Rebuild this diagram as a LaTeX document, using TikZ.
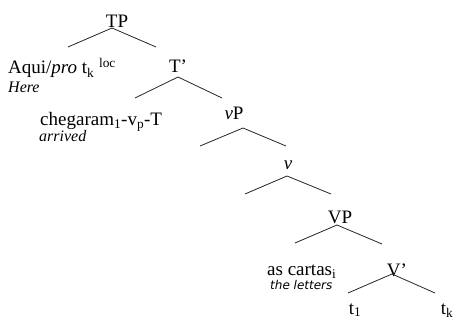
\documentclass[tikz,border=0pt]{standalone}
\usepackage{fontspec}
\setmainfont{Liberation Serif}
\newfontfamily\glosssans{DejaVu Sans}

\tikzset{
  cat/.style   = {inner sep=0pt, anchor=base, font=\fontsize{19}{21}\selectfont},
  word/.style  = {inner sep=0pt, anchor=base west, font=\fontsize{19}{21}\selectfont},
  gloss/.style = {inner sep=0pt, anchor=base west, font=\itshape\fontsize{16}{18}\selectfont},
  branch/.style = {draw=black!85, line width=0.8pt}
}

\begin{document}
\begin{tikzpicture}[x=1pt, y=-1pt]
  \useasboundingbox (0,0) rectangle (455,320);

  % labels of the tree, by baseline
  \node[cat]  (TP)   at (117,27.5) {TP};
  \node[word] (aqui) at (8,74)     {Aqui/\textit{pro} t\textsubscript{k} \textsuperscript{loc}};
  \node[gloss] (here) at (8,93)    {Here};
  \node[cat]  (Tbar) at (178,73)   {T’};
  \node[word] (verb) at (40,126)   {chegaram\textsubscript{1}-v\textsubscript{p}-T};
  \node[gloss] (arr) at (39,142)   {arrived};
  \node[cat]  (vP)   at (234,120)  {\textit{v}P};
  \node[cat]  (v)    at (288,169.5){\textit{v}};
  \node[cat]  (VP)   at (340,224)  {VP};
  \node[word] (obj)  at (267,276)  {as cartas\textsubscript{i}};
  \node[gloss, font=\glosssans\itshape\fontsize{12}{14}\selectfont]
              (lett) at (270,290)  {the letters};
  \node[cat]  (Vbar) at (397,277)  {V’};
  \node[cat]  (t1)   at (355,314)  {t\textsubscript{1}};
  \node[cat]  (tk)   at (447,314)  {t\textsubscript{k}};

  % branch points: top, left end, right end
  \foreach \n/\tx/\ty/\lx/\ly/\rx/\ry in {
      TP/112/28/68/47/156/47,
      Tbar/178/77/135/98/222/98,
      vP/243/128/200/146/286/146,
      v/287/176/245/194/331/194,
      VP/337/225/295/243/382/244,
      Vbar/392/274/348/293/435/293} {
    \coordinate (\n-top) at (\tx,\ty);
    \coordinate (\n-l) at (\lx,\ly);
    \coordinate (\n-r) at (\rx,\ry);
    \draw[branch] (\n-l) -- (\n-top) -- (\n-r);
  }
\end{tikzpicture}
\end{document}
